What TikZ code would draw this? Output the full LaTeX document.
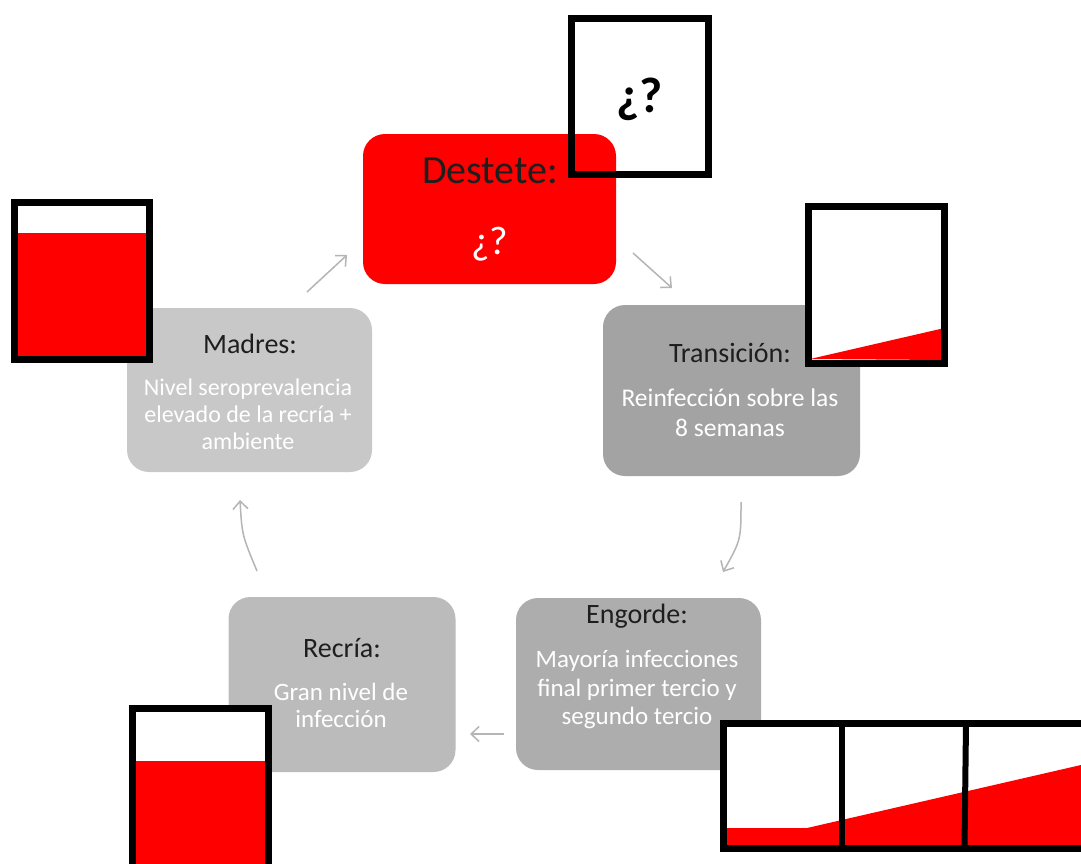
\documentclass[tikz,border=0pt]{standalone}
\usepackage{fontspec}
\setmainfont{Carlito}
\usetikzlibrary{arrows.meta}
\definecolor{rojo}{HTML}{FF0000}
\definecolor{transc}{HTML}{A3A3A3}
\definecolor{madresc}{HTML}{C8C8C8}
\definecolor{recriac}{HTML}{BBBBBB}
\definecolor{engordec}{HTML}{ADADAD}
\definecolor{arrowc}{HTML}{B5B5B5}
\definecolor{titlec}{HTML}{1E1E1E}
\begin{document}
\begin{tikzpicture}[x=1pt,y=-1pt,
  stagebox/.style={draw=none, rounded corners=22pt, inner sep=0pt, outer sep=0pt},
  titletext/.style={text=titlec, inner sep=0pt, align=center, font=\fontsize{28}{32}\selectfont},
  bodytext/.style={text=white, inner sep=0pt, align=center},
  cyc/.style={draw=arrowc, line width=1.5pt, -{Straight Barb[length=8pt,width=15pt,line width=1.5pt]}},
  frame/.style={draw=black, line width=7pt},
]
\clip (0,0) rectangle (1081,863);
\fill[white] (0,0) rectangle (1081,863);

% stage boxes
\node[stagebox, fill=rojo, minimum width=253pt, minimum height=150pt] (destete) at (489.5,209) {};
\node[stagebox, fill=transc, minimum width=257pt, minimum height=171pt] (trans) at (731.5,390.5) {};
\node[stagebox, fill=madresc, minimum width=245pt, minimum height=164pt] (madres) at (249.5,390) {};
\node[stagebox, fill=recriac, minimum width=227pt, minimum height=175pt] (recria) at (342,684.5) {};
\node[stagebox, fill=engordec, minimum width=245pt, minimum height=172pt] (engorde) at (638.5,684) {};

% texts
\node[text=titlec, inner sep=0pt, font=\fontsize{40}{46}\selectfont] (tdest) at (490,171) {Destete:};
\node[text=white, inner sep=0pt, font=\fontsize{40}{46}\selectfont] (qdest) at (490,244) {¿?};

\node[titletext] (tmad) at (250,344) {Madres:};
\node[bodytext, font=\fontsize{24}{27}\selectfont] (bmad) at (248,414) {Nivel seroprevalencia\\elevado de la recría +\\ambiente};

\node[titletext] (ttrans) at (730,353) {Transición:};
\node[bodytext, font=\fontsize{25.5}{30}\selectfont] (btrans) at (730,413) {Reinfección sobre las\\8 semanas};

\node[titletext] (teng) at (637,616) {Engorde:};
\node[bodytext, font=\fontsize{25}{28.5}\selectfont] (beng) at (637,690) {Mayoría infecciones\\final primer tercio y\\segundo tercio};

\node[titletext] (trec) at (342,648) {Recría:};
\node[bodytext, font=\fontsize{25}{27}\selectfont] (brec) at (341,705) {Gran nivel de\\infección};

% cycle arrows
\coordinate (a1s) at (633,253); \coordinate (a1e) at (672,288);
\coordinate (a2s) at (741,502); \coordinate (a2c) at (741,540); \coordinate (a2e) at (723,572);
\coordinate (a3s) at (504,734); \coordinate (a3e) at (470,734);
\coordinate (a4s) at (257,571); \coordinate (a4c) at (242,535); \coordinate (a4e) at (240,500);
\coordinate (a5s) at (307,292); \coordinate (a5e) at (347,255);
\draw[cyc] (a1s) -- (a1e);
\draw[cyc] (a2s) .. controls (a2c) .. (a2e);
\draw[cyc] (a3s) -- (a3e);
\draw[cyc] (a4s) .. controls (a4c) .. (a4e);
\draw[cyc] (a5s) -- (a5e);

% indicator: Madres
\fill[white] (14.5,202.5) rectangle (149.5,359.5);
\fill[rojo] (14.5,233) rectangle (149.5,359.5);
\draw[frame] (14.5,202.5) rectangle (149.5,359.5);

% indicator: Destete (transparent frame)
\draw[frame] (571.5,18.5) rectangle (708.5,174.5);
\node[text=black, inner sep=0pt, font=\bfseries\fontsize{50}{56}\selectfont] (qtop) at (640,99) {¿?};

% indicator: Transicion
\fill[white] (808.5,206.5) rectangle (944.5,363.5);
\fill[rojo] (810,359) -- (944.5,328) -- (944.5,360) -- cycle;
\draw[frame] (808.5,206.5) rectangle (944.5,363.5);

% indicator: Recria
\fill[white] (132.5,708.5) rectangle (268.5,870);
\fill[rojo] (132.5,761) rectangle (268.5,870);
\draw[frame] (132.5,708.5) rectangle (268.5,880);

% indicator: Engorde
\fill[white] (723.5,723.5) rectangle (1100,848.5);
\fill[rojo] (723.5,828) -- (807,828) -- (1081,765) -- (1100,765) -- (1100,848.5) -- (723.5,848.5) -- cycle;
\draw[frame] (723.5,723.5) rectangle (1100,848.5);
\draw[black, line width=6pt] (842,723.5) -- (842,848.5);
\draw[black, line width=6pt] (966,723.5) -- (964.5,848.5);
\end{tikzpicture}
\end{document}
